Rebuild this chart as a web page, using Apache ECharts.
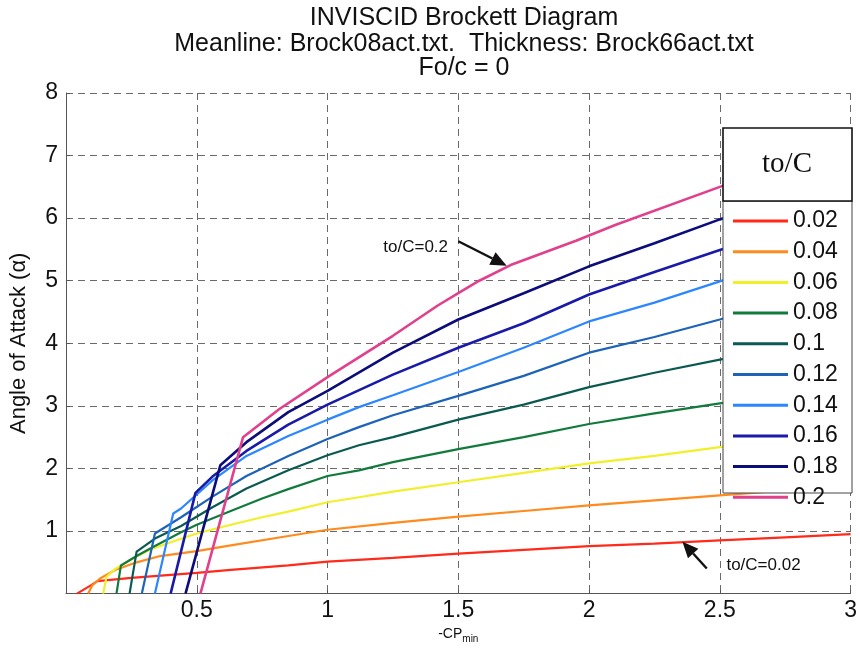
<!DOCTYPE html>
<html><head><meta charset="utf-8">
<script src="https://cdn.jsdelivr.net/npm/echarts@6/dist/echarts.min.js"></script>
<style>html,body{margin:0;padding:0;background:#fff}#c{width:860px;height:649px}</style>
</head><body><div id="c"></div>
<script>
// ---- data ----
const toC = ['0.02','0.04','0.06','0.08','0.1','0.12','0.14','0.16','0.18','0.2'];
const cp002 = [[0.042,0],[0.098,0.14],[0.12,0.2],[0.25,0.25],[0.4,0.3],[0.5,0.33],[0.63,0.38],[0.85,0.45],[1.0,0.51],[1.25,0.57],[1.5,0.64],[1.75,0.7],[2.0,0.76],[2.25,0.8],[2.5,0.85],[2.75,0.9],[3.0,0.95]];
const cp004 = [[0.085,0],[0.1,0.13],[0.13,0.24],[0.19,0.38],[0.27,0.5],[0.36,0.6],[0.5,0.68],[0.63,0.77],[0.85,0.92],[1.0,1.02],[1.25,1.13],[1.5,1.23],[1.75,1.32],[2.0,1.41],[2.25,1.49],[2.5,1.57],[2.75,1.65],[3.0,1.72]];
const cp006 = [[0.142,0],[0.155,0.27],[0.19,0.4],[0.25,0.55],[0.32,0.7],[0.4,0.82],[0.5,0.96],[0.63,1.1],[0.75,1.22],[0.85,1.31],[1.0,1.46],[1.12,1.54],[1.25,1.63],[1.5,1.78],[1.75,1.93],[2.0,2.08],[2.25,2.2],[2.5,2.34],[2.75,2.46],[3.0,2.57]];
const cp008 = [[0.193,0],[0.21,0.45],[0.27,0.6],[0.34,0.76],[0.44,0.98],[0.5,1.1],[0.63,1.32],[0.75,1.52],[0.85,1.67],[1.0,1.88],[1.12,1.97],[1.25,2.1],[1.5,2.31],[1.75,2.5],[2.0,2.71],[2.25,2.88],[2.5,3.04],[2.75,3.2],[3.0,3.36]];
const cp010 = [[0.243,0],[0.27,0.67],[0.34,0.88],[0.44,1.08],[0.56,1.38],[0.69,1.68],[0.85,1.97],[1.0,2.21],[1.12,2.37],[1.25,2.5],[1.5,2.78],[1.75,3.02],[2.0,3.3],[2.25,3.53],[2.5,3.74],[2.75,3.93],[3.0,4.11]];
const cp012 = [[0.29,0],[0.34,0.96],[0.44,1.22],[0.56,1.55],[0.69,1.88],[0.85,2.2],[1.0,2.47],[1.12,2.66],[1.25,2.85],[1.5,3.16],[1.75,3.48],[2.0,3.85],[2.25,4.1],[2.5,4.38],[2.75,4.7],[3.0,5.02]];
const cp014 = [[0.34,0],[0.41,1.28],[0.44,1.36],[0.56,1.81],[0.69,2.2],[0.85,2.52],[1.0,2.78],[1.12,2.98],[1.25,3.17],[1.5,3.54],[1.75,3.93],[2.0,4.35],[2.25,4.65],[2.5,4.99],[2.75,5.33],[3.0,5.67]];
const cp016 = [[0.40,0],[0.495,1.61],[0.56,1.87],[0.69,2.28],[0.85,2.7],[1.0,3.02],[1.25,3.5],[1.5,3.93],[1.75,4.32],[2.0,4.78],[2.25,5.14],[2.5,5.49],[2.75,5.82],[3.0,6.14]];
const cp018 = [[0.457,0],[0.59,2.05],[0.69,2.42],[0.85,2.9],[1.0,3.24],[1.25,3.85],[1.5,4.38],[1.75,4.8],[2.0,5.23],[2.25,5.6],[2.5,5.98],[2.75,6.35],[3.0,6.68]];
const cp020 = [[0.514,0],[0.677,2.5],[0.816,2.95],[1.0,3.46],[1.05,3.59],[1.25,4.12],[1.42,4.6],[1.5,4.8],[1.58,5.0],[1.7,5.25],[1.95,5.64],[2.1,5.89],[2.5,6.5],[2.75,6.88],[3.0,7.23]];
const curves = [cp002,cp004,cp006,cp008,cp010,cp012,cp014,cp016,cp018,cp020];
const colors = ['#ff2a1a','#ff8a1e','#f0f02a','#137a3e','#0b5a52','#1d63b8','#2b86ff','#1a1aa8','#0c0c7a','#e0408c'];
const xTicks = {min:0, max:3, step:0.5};
const yTicks = {min:0, max:8, step:1};
const titleLines = ['INVISCID Brockett Diagram','Meanline: Brock08act.txt.  Thickness: Brock66act.txt','Fo/c = 0'];
const notes = [
  {text:'to/C=0.2', textAt:[1.337,5.53], from:[1.50,5.63], to:[1.685,5.24]},
  {text:'to/C=0.02', textAt:[2.667,0.45], from:[2.45,0.40], to:[2.357,0.83]}
];

const FONT = "'Liberation Sans', Arial, sans-serif";
const chart = echarts.init(document.getElementById('c'));
const series = curves.map((d,i)=>({
  name: toC[i], type:'line', data:d, symbol:'none', showSymbol:false, smooth:false,
  lineStyle:{color:colors[i], width: i>=7 ? 2.6 : 2.2}, itemStyle:{color:colors[i]}, z:2+i*0.01
}));
chart.setOption({
  animation:false,
  backgroundColor:'#fff',
  grid:{left:64, right:2, top:93, bottom:54},
  xAxis:{type:'value', min:xTicks.min, max:xTicks.max, interval:xTicks.step,
    axisLine:{show:true, onZero:false, lineStyle:{color:'#555', width:1}},
    axisTick:{show:true, inside:true, length:4, lineStyle:{color:'#555'}},
    axisLabel:{fontSize:23, color:'#111', fontFamily:FONT, margin:6, showMinLabel:false, formatter:v=>String(v)},
    splitLine:{show:true, lineStyle:{type:[7,5], color:'#6a6a6a', width:1}},
    name:'{a|-CP}{b|min}', nameLocation:'middle', nameGap:30,
    nameTextStyle:{rich:{a:{fontSize:14, fontFamily:FONT, color:'#111'}, b:{fontSize:10, fontFamily:FONT, color:'#111', padding:[9,0,0,0]}}}
  },
  yAxis:{type:'value', min:yTicks.min, max:yTicks.max, interval:yTicks.step,
    axisLine:{show:true, lineStyle:{color:'#555', width:1}},
    axisTick:{show:true, inside:true, length:4, lineStyle:{color:'#555'}},
    axisLabel:{fontSize:23, color:'#111', fontFamily:FONT, margin:8, showMinLabel:false},
    splitLine:{show:true, lineStyle:{type:[7,5], color:'#6a6a6a', width:1}},
    name:'Angle of Attack (α)', nameLocation:'middle', nameGap:36, nameRotate:90,
    nameTextStyle:{fontSize:22, fontFamily:FONT, color:'#111'}
  },
  legend:{orient:'vertical', left:733, top:209.5, padding:0, itemWidth:55, itemHeight:3, itemGap:7.7,
    icon:'rect',
    textStyle:{fontSize:23, fontFamily:FONT, color:'#111', lineHeight:21},
    data:toC, z:120, selectedMode:false},
  series: series
});

function px(p){ return chart.convertToPixel({gridIndex:0}, p); }
const g = [];
titleLines.forEach((t,i)=>{
  g.push({type:'text', z:50, style:{x:464, y:[18,44,68][i], text:t, textAlign:'center', textVerticalAlign:'middle',
    fontSize:25, fontFamily:FONT, fill:'#111'}});
});
g.push({type:'rect', z:100, shape:{x:723, y:201, width:129, height:292}, style:{fill:'#fff', stroke:'#444', lineWidth:1}});
g.push({type:'rect', z:101, shape:{x:723, y:128, width:129, height:73}, style:{fill:'#fff', stroke:'#111', lineWidth:1.6}});
g.push({type:'text', z:102, style:{x:787, y:164, text:'to/C', textAlign:'center', textVerticalAlign:'middle',
  fontSize:29, fontFamily:"'Liberation Serif', 'Times New Roman', serif", fill:'#111'}});
notes.forEach(n=>{
  const tp = px(n.textAt), a = px(n.from), b = px(n.to);
  g.push({type:'text', z:60, style:{x:tp[0], y:tp[1], text:n.text, textAlign:'center', textVerticalAlign:'middle',
    fontSize:17, fontFamily:FONT, fill:'#111'}});
  const dx=b[0]-a[0], dy=b[1]-a[1], L=Math.hypot(dx,dy), ux=dx/L, uy=dy/L;
  const hl=16, hw=7;
  const bx=b[0]-ux*hl, by=b[1]-uy*hl;
  g.push({type:'line', z:60, shape:{x1:a[0], y1:a[1], x2:bx, y2:by}, style:{stroke:'#111', lineWidth:2.4}});
  g.push({type:'polygon', z:60, shape:{points:[[b[0],b[1]],[bx-uy*hw,by+ux*hw],[bx+uy*hw,by-ux*hw]]}, style:{fill:'#111'}});
});
chart.setOption({graphic:g});
</script>
</body></html>
